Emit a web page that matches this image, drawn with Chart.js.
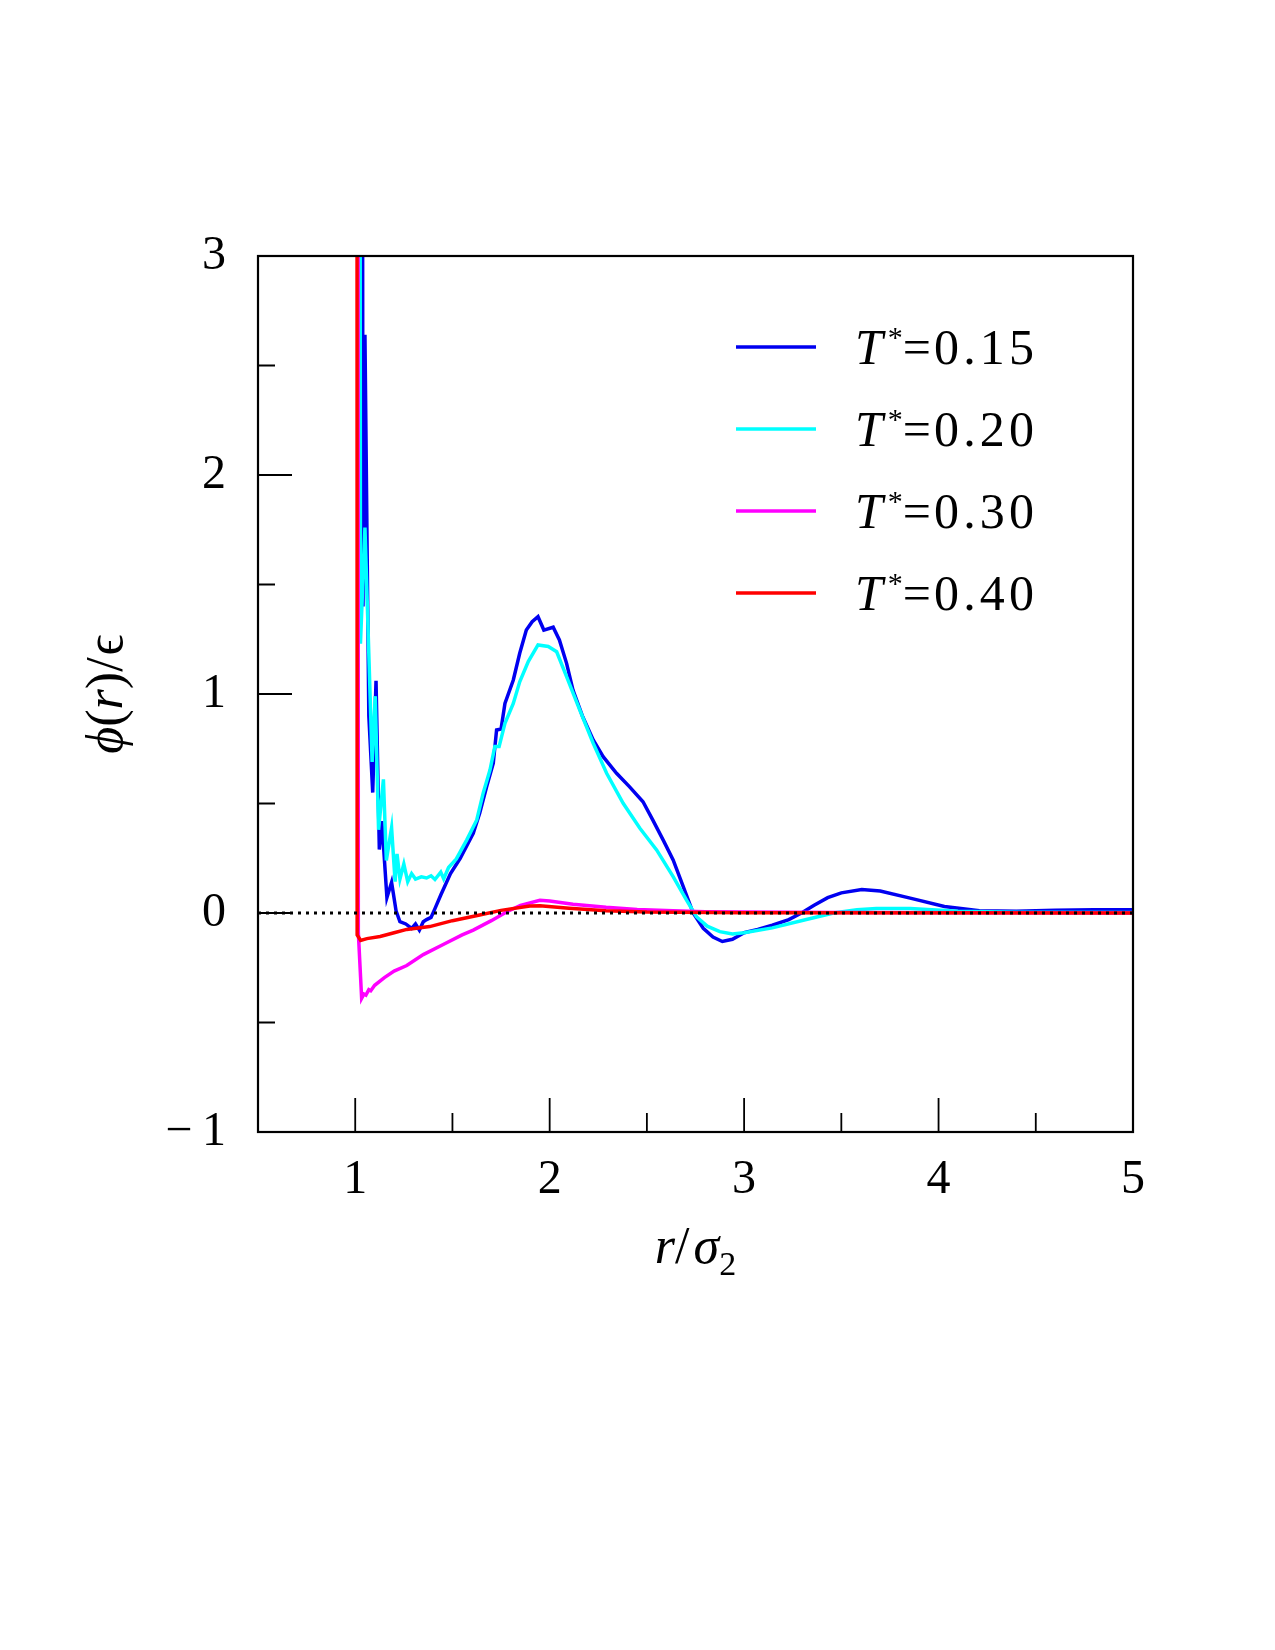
<!DOCTYPE html>
<html>
<head>
<meta charset="utf-8">
<script src="https://cdn.jsdelivr.net/npm/chart.js@4.4.1/dist/chart.umd.min.js"></script>
<style>
  body { margin: 0; background: #fff; }
  canvas { display: block; }
</style>
</head>
<body>
<canvas id="myChart" width="1275" height="1650"></canvas>
<script>
// r / sigma_2 and phi(r)/epsilon, one pair of arrays per temperature
const rT015 = [1.03, 1.04, 1.05, 1.07, 1.09, 1.107, 1.124, 1.137, 1.163, 1.187, 1.21, 1.23, 1.26, 1.29, 1.31, 1.33, 1.35, 1.367, 1.39, 1.41, 1.44, 1.49, 1.54, 1.607, 1.64, 1.676, 1.71, 1.727, 1.75, 1.77, 1.813, 1.846, 1.88, 1.91, 1.94, 1.97, 2.018, 2.05, 2.087, 2.12, 2.17, 2.224, 2.275, 2.344, 2.41, 2.48, 2.53, 2.584, 2.635, 2.687, 2.738, 2.79, 2.84, 2.888, 2.94, 3.0, 3.07, 3.145, 3.23, 3.295, 3.36, 3.43, 3.5, 3.605, 3.7, 3.854, 4.03, 4.21, 4.4, 4.6, 4.8, 5.0];
const phiT015 = [10, 1.4, 2.64, 0.9, 0.55, 1.06, 0.29, 0.42, 0.07, 0.14, 0.01, -0.04, -0.05, -0.07, -0.05, -0.078, -0.04, -0.03, -0.02, 0.02, 0.082, 0.18, 0.25, 0.364, 0.455, 0.577, 0.684, 0.836, 0.84, 0.957, 1.064, 1.186, 1.292, 1.33, 1.353, 1.292, 1.305, 1.247, 1.14, 1.018, 0.896, 0.79, 0.714, 0.638, 0.577, 0.508, 0.425, 0.333, 0.242, 0.12, 0.0, -0.07, -0.11, -0.13, -0.12, -0.09, -0.075, -0.056, -0.03, 0.0, 0.035, 0.07, 0.092, 0.107, 0.1, 0.068, 0.03, 0.01, 0.008, 0.012, 0.015, 0.015];

const rT020 = [1.02, 1.027, 1.05, 1.087, 1.103, 1.12, 1.145, 1.16, 1.187, 1.205, 1.215, 1.23, 1.25, 1.27, 1.29, 1.31, 1.34, 1.367, 1.39, 1.41, 1.44, 1.455, 1.48, 1.52, 1.573, 1.625, 1.658, 1.693, 1.718, 1.74, 1.77, 1.813, 1.846, 1.89, 1.94, 1.993, 2.036, 2.087, 2.155, 2.224, 2.293, 2.378, 2.464, 2.55, 2.635, 2.704, 2.755, 2.81, 2.875, 2.94, 3.0, 3.145, 3.32, 3.46, 3.58, 3.68, 3.854, 4.1, 4.4, 5.0];
const phiT020 = [10, 1.23, 1.76, 0.69, 0.99, 0.38, 0.61, 0.24, 0.39, 0.143, 0.27, 0.155, 0.224, 0.143, 0.18, 0.155, 0.165, 0.16, 0.17, 0.153, 0.187, 0.156, 0.208, 0.247, 0.333, 0.425, 0.547, 0.653, 0.76, 0.76, 0.866, 0.957, 1.056, 1.148, 1.224, 1.217, 1.193, 1.079, 0.927, 0.775, 0.638, 0.501, 0.387, 0.288, 0.166, 0.059, -0.017, -0.06, -0.085, -0.096, -0.09, -0.068, -0.03, 0.0, 0.015, 0.02, 0.02, 0.008, 0.003, 0.002];

const rT030 = [1.0, 1.012, 1.016, 1.033, 1.045, 1.055, 1.07, 1.08, 1.1, 1.15, 1.2, 1.265, 1.35, 1.45, 1.55, 1.607, 1.7, 1.78, 1.85, 1.95, 2.0, 2.12, 2.29, 2.45, 2.635, 2.8, 3.0, 3.5, 5.0];
const phiT030 = [10, 10, -0.09, -0.39, -0.37, -0.375, -0.35, -0.355, -0.33, -0.295, -0.265, -0.24, -0.19, -0.145, -0.1, -0.078, -0.035, 0.006, 0.035, 0.058, 0.055, 0.04, 0.026, 0.016, 0.01, 0.006, 0.004, 0.002, 0.0];

const rT040 = [1.0, 1.008, 1.01, 1.028, 1.06, 1.128, 1.2, 1.265, 1.383, 1.5, 1.64, 1.75, 1.898, 1.95, 2.1, 2.29, 2.5, 3.0, 5.0];
const phiT040 = [10, 10, -0.1, -0.125, -0.117, -0.107, -0.09, -0.075, -0.062, -0.035, -0.009, 0.012, 0.032, 0.033, 0.022, 0.01, 0.004, 0.001, 0.0];

const zeroR = [0.5, 5];
const zeroPhi = [0, 0];

const legendTemps = ['0.15', '0.20', '0.30', '0.40'];
const lineColors = ['#0000f0', '#00ffff', '#ff00ff', '#ff0000'];

const xTicks = [1, 2, 3, 4, 5];
const yTicks = [-1, 0, 1, 2, 3];

function toPoints(xs, ys) {
    return xs.map(function(x, i) { return {x: x, y: ys[i]}; });
}

const serif = '"Liberation Serif", "DejaVu Serif", serif';

// text with mixed italic / sub / superscript pieces
function drawRich(ctx, parts, x, y, align) {
    let total = 0;
    parts.forEach(function(p) {
        ctx.font = (p.italic ? 'italic ' : '') + p.size + 'px ' + serif;
        p.w = ctx.measureText(p.t).width + (p.gap || 0);
        total += p.w;
    });
    let cx = align === 'center' ? x - total / 2 : x;
    ctx.textAlign = 'left';
    ctx.textBaseline = 'alphabetic';
    parts.forEach(function(p) {
        ctx.font = (p.italic ? 'italic ' : '') + p.size + 'px ' + serif;
        ctx.fillText(p.t, cx + (p.dx || 0), y + (p.dy || 0));
        cx += p.w;
    });
}

const framePlugin = {
    id: 'frame',
    afterDraw(chart) {
        const ctx = chart.ctx;
        const a = chart.chartArea;
        const xs = chart.scales.x, ys = chart.scales.y;
        ctx.save();
        ctx.strokeStyle = '#000';
        ctx.lineWidth = 2.2;
        ctx.strokeRect(a.left, a.top, a.right - a.left, a.bottom - a.top);

        // inward tick marks, long on integers
        ctx.lineWidth = 1.8;
        ctx.beginPath();
        for (let v = 1; v < 5; v += 0.5) {
            const px = xs.getPixelForValue(v);
            const len = Number.isInteger(v) ? 34 : 19;
            ctx.moveTo(px, a.bottom);
            ctx.lineTo(px, a.bottom - len);
        }
        for (let v = -0.5; v < 3; v += 0.5) {
            const py = ys.getPixelForValue(v);
            const len = Number.isInteger(v) ? 34 : 17;
            ctx.moveTo(a.left, py);
            ctx.lineTo(a.left + len, py);
        }
        ctx.stroke();

        ctx.fillStyle = '#000';
        // axis titles
        drawRich(ctx, [
            {t: 'r', italic: true, size: 52},
            {t: '/', size: 52, gap: 4},
            {t: 'σ', italic: true, size: 52},
            {t: '2', size: 34, dy: 12}
        ], (a.left + a.right) / 2, 1263, 'center');

        ctx.save();
        ctx.translate(122, (a.top + a.bottom) / 2);
        ctx.rotate(-Math.PI / 2);
        drawRich(ctx, [
            {t: 'ϕ', italic: true, size: 52},
            {t: '(', size: 52},
            {t: 'r', italic: true, size: 52},
            {t: ')', size: 52},
            {t: '/', size: 52, gap: 2},
            {t: 'ϵ', size: 52}
        ], 0, 0, 'center');
        ctx.restore();

        // legend inside the frame
        const rowY = [347, 429, 511, 593];
        legendTemps.forEach(function(t, i) {
            ctx.strokeStyle = lineColors[i];
            ctx.lineWidth = 3.5;
            ctx.beginPath();
            ctx.moveTo(736, rowY[i]);
            ctx.lineTo(816, rowY[i]);
            ctx.stroke();
            ctx.fillStyle = '#000';
            drawRich(ctx, [
                {t: 'T', italic: true, size: 50, gap: 5},
                {t: '*', size: 30, dy: -17},
                {t: '=', size: 50, gap: 3},
                {t: t.split('').join('\u200A'), size: 50}
            ], 855, rowY[i] + 17, 'left');
        });
        ctx.restore();
    }
};

const data = {
    datasets: [
        { label: 'T*=0.15', data: toPoints(rT015, phiT015), borderColor: lineColors[0], order: 4 },
        { label: 'T*=0.20', data: toPoints(rT020, phiT020), borderColor: lineColors[1], order: 3 },
        { label: 'T*=0.30', data: toPoints(rT030, phiT030), borderColor: lineColors[2], order: 2 },
        { label: 'T*=0.40', data: toPoints(rT040, phiT040), borderColor: lineColors[3], order: 1 },
        { label: 'zero', data: toPoints(zeroR, zeroPhi), borderColor: '#000', borderDash: [3, 5], borderWidth: 3, order: 0 }
    ]
};

const config = {
    type: 'line',
    data: data,
    options: {
        responsive: false,
        animation: false,
        devicePixelRatio: 1,
        layout: {
            padding: { left: 0, right: 142, top: 256, bottom: 418 }
        },
        elements: {
            point: { radius: 0 },
            line: { borderWidth: 3.5, tension: 0, fill: false }
        },
        scales: {
            x: {
                type: 'linear',
                min: 0.5,
                max: 5,
                afterBuildTicks: function(scale) {
                    scale.ticks = xTicks.map(function(v) { return {value: v}; });
                },
                afterFit: function(scale) { scale.height = 100; },
                grid: { display: false, drawTicks: false },
                border: { display: false },
                ticks: {
                    padding: 20,
                    color: '#000',
                    font: { family: serif, size: 48 },
                    maxRotation: 0
                }
            },
            y: {
                type: 'linear',
                min: -1,
                max: 3,
                afterBuildTicks: function(scale) {
                    scale.ticks = yTicks.map(function(v) { return {value: v}; });
                },
                afterFit: function(scale) { scale.width = 258; },
                grid: { display: false, drawTicks: false },
                border: { display: false },
                ticks: {
                    padding: 32,
                    color: '#000',
                    font: { family: serif, size: 48 },
                    callback: function(v) { return v < 0 ? '\u2212\u2009' + Math.abs(v) : String(v); }
                }
            }
        },
        plugins: {
            legend: { display: false },
            tooltip: { enabled: false }
        }
    },
    plugins: [framePlugin]
};

const myChart = new Chart(document.getElementById('myChart'), config);
</script>
</body>
</html>
